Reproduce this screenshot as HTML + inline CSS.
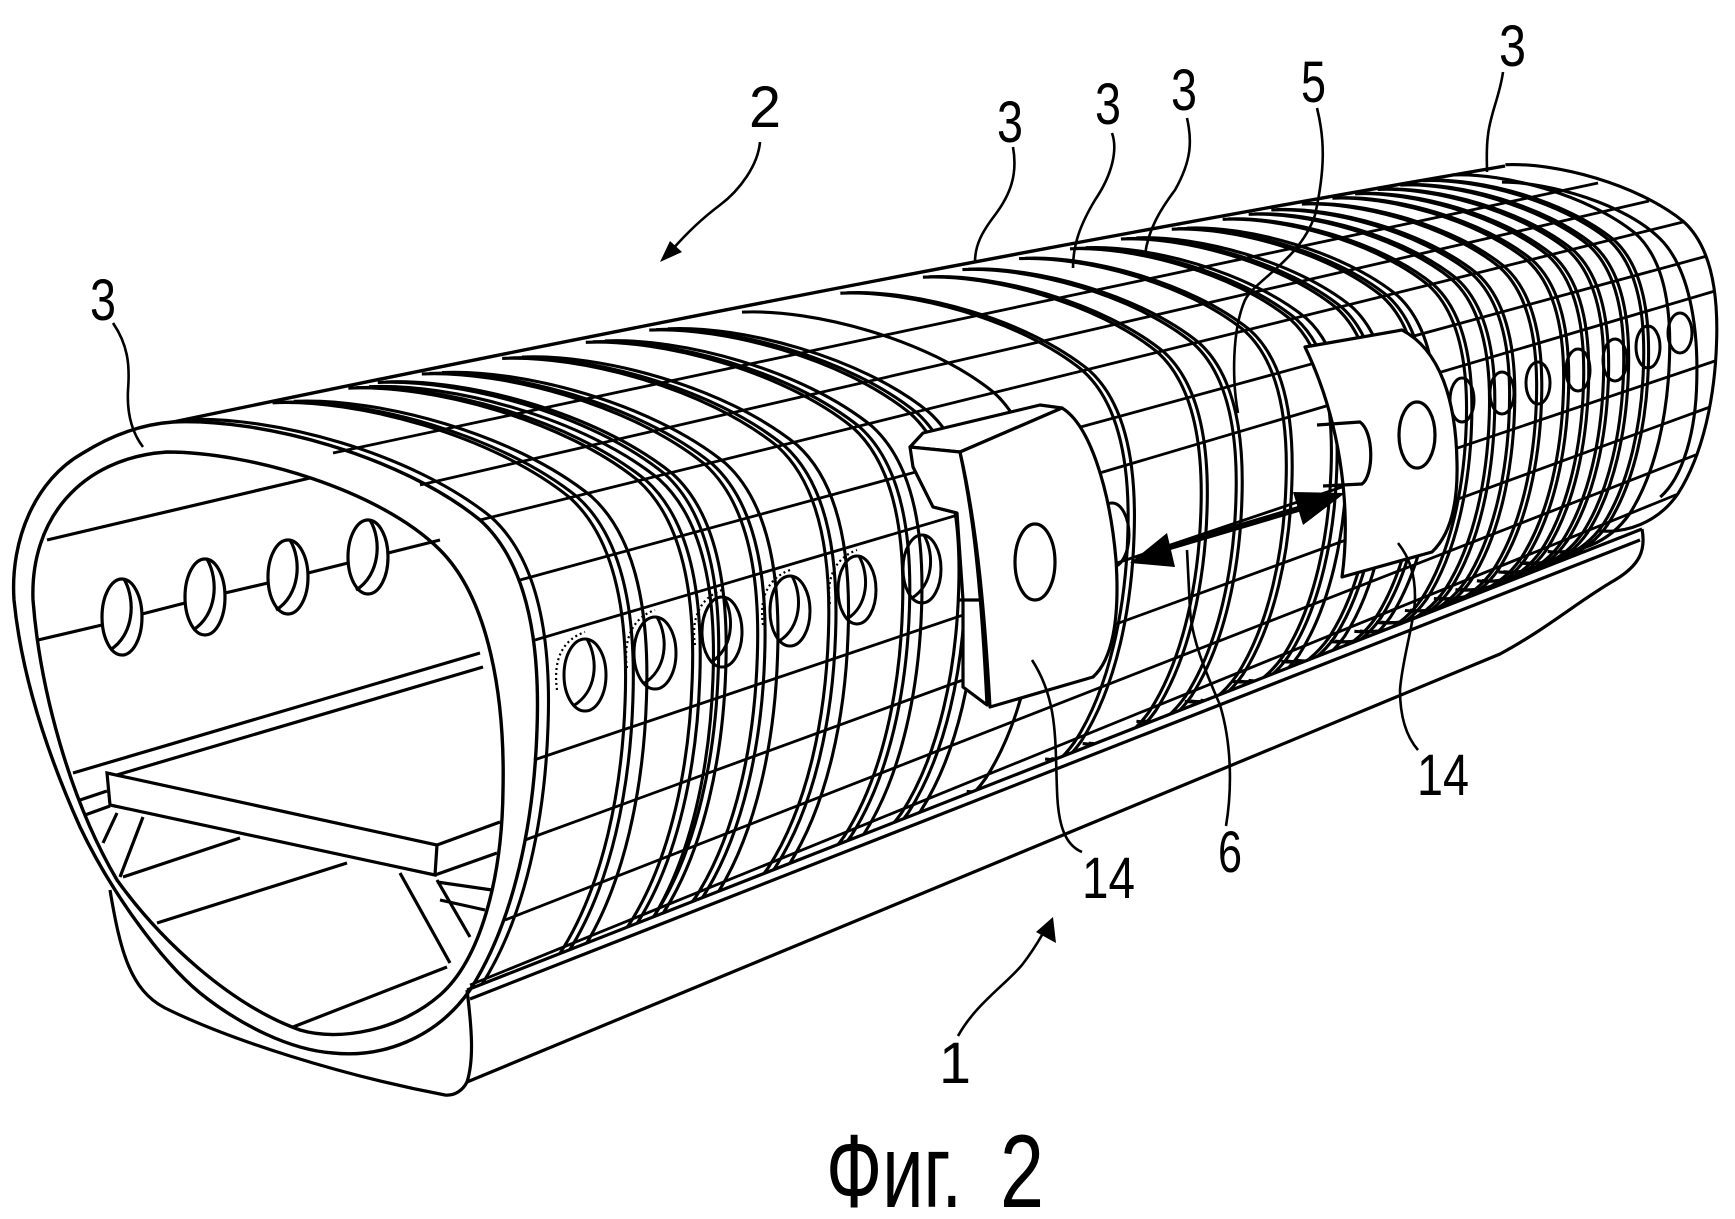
<!DOCTYPE html>
<html>
<head>
<meta charset="utf-8">
<style>
html,body{margin:0;padding:0;background:#fff;}
svg{display:block;}
text{font-family:"Liberation Sans", Arial, sans-serif;fill:#000;}
</style>
</head>
<body>
<svg xmlns="http://www.w3.org/2000/svg" xmlns:xlink="http://www.w3.org/1999/xlink" width="1735" height="1219" viewBox="0 0 1735 1219">
<defs>
<path id="fr" d="M173,422 C260,418 400,455 480,520 C530,565 540,650 537,730 C534,820 515,920 470,990 C435,1040 380,1058 333,1053" fill="none" stroke="#000" stroke-width="3.1" vector-effect="non-scaling-stroke"/>
<path id="fi" d="M167,452 C250,452 380,490 440,550 C490,600 505,700 503,790 C502,880 480,960 440,995" fill="none" stroke="#000" stroke-width="3.1" vector-effect="non-scaling-stroke"/>
<g id="f2"><use href="#fr" xlink:href="#fr"/><use href="#fr" xlink:href="#fr" transform="translate(8,-0.5)"/></g>
<g id="f3"><use href="#f2" xlink:href="#f2"/><use href="#fr" xlink:href="#fr" transform="translate(22,-1.5)"/></g>
<clipPath id="ck"><polygon points="0,0 1735,0 1735,492 0,1173"/></clipPath>
</defs>
<rect width="1735" height="1219" fill="#fff"/>

<g clip-path="url(#ck)">
<use href="#fr" xlink:href="#fr" transform="matrix(.99608,0,0,.99608,13.12,-.75)"/>
<use href="#f3" xlink:href="#f3" transform="matrix(.96863,0,0,.96863,104.96,-5.98)"/>
<use href="#f3" xlink:href="#f3" transform="matrix(.94473,0,0,.94473,184.9,-10.53)"/>
<use href="#f2" xlink:href="#f2" transform="matrix(.93549,0,0,.93549,215.9,-12.30)"/>
<use href="#f3" xlink:href="#f3" transform="matrix(.92154,0,0,.92154,262.4,-14.95)"/>
<use href="#f3" xlink:href="#f3" transform="matrix(.89626,0,0,.89626,347.1,-19.77)"/>
<use href="#f3" xlink:href="#f3" transform="matrix(.86988,0,0,.86988,435.3,-24.80)"/>
<use href="#f3" xlink:href="#f3" transform="matrix(.84989,0,0,.84989,502.2,-28.61)"/>
<use href="#fr" xlink:href="#fr" transform="matrix(.8207,0,0,.8207,600,-34.2)"/>
<use href="#f2" xlink:href="#f2" transform="matrix(.78966,0,0,.78966,703.7,-40.08)"/>
<use href="#f2" xlink:href="#f2" transform="matrix(.76362,0,0,.76362,790.8,-45.05)"/>
<use href="#f2" xlink:href="#f2" transform="matrix(.75115,0,0,.75115,832.5,-47.42)"/>
<use href="#f2" xlink:href="#f2" transform="matrix(.73330,0,0,.73330,892.2,-50.82)"/>
<use href="#f3" xlink:href="#f3" transform="matrix(.71726,0,0,.71726,945.9,-53.88)"/>
<use href="#f3" xlink:href="#f3" transform="matrix(.70123,0,0,.70123,999.6,-56.94)"/>
<use href="#f3" xlink:href="#f3" transform="matrix(.68517,0,0,.68517,1053.2,-60.00)"/>
<use href="#f2" xlink:href="#f2" transform="matrix(.66912,0,0,.66912,1106.9,-63.05)"/>
<use href="#f2" xlink:href="#f2" transform="matrix(.66093,0,0,.66093,1134.3,-64.62)"/>
<use href="#f2" xlink:href="#f2" transform="matrix(.65379,0,0,.65379,1158.2,-65.98)"/>
<use href="#f2" xlink:href="#f2" transform="matrix(.64418,0,0,.64418,1190.4,-67.81)"/>
<use href="#f2" xlink:href="#f2" transform="matrix(.63456,0,0,.63456,1222.6,-69.64)"/>
<use href="#f2" xlink:href="#f2" transform="matrix(.62742,0,0,.62742,1246.5,-71.00)"/>
<use href="#f2" xlink:href="#f2" transform="matrix(.62028,0,0,.62028,1270.3,-72.36)"/>
<use href="#f2" xlink:href="#f2" transform="matrix(.61314,0,0,.61314,1294.2,-73.72)"/>
<use href="#f2" xlink:href="#f2" transform="matrix(.60604,0,0,.60604,1318.0,-75.08)"/>
<use href="#fr" xlink:href="#fr" transform="matrix(.59676,0,0,.59676,1349.0,-76.85)"/>
<use href="#fr" xlink:href="#fr" transform="matrix(.58,0,0,.58,1405.08,-80.04)"/>
<use href="#fi" xlink:href="#fi" transform="matrix(.58,0,0,.58,1405.08,-80.04)"/>
<path stroke="#000" stroke-width="2.8" fill="none" d="M333,453 L1598,183 M420,485 L1649,201 M480,520 L1683,222 M520,580 L1707,256 M535,640 L1715,291 M534,760 L1715,361 M525,840 L1710,407 M505,920 L1698,454 M470,985 L1678,494"/>
</g>

<path d="M173,422 Q900,270 1505,166" fill="none" stroke="#000" stroke-width="3.4"/>

<g fill="none" stroke="#000" stroke-width="3.2">
<path d="M467,990 L1642,529 M470,999 L1640,540"/>
<path d="M1642,529 C1646,550 1640,565 1615,580 C1580,600 1545,630 1500,654 L467,1082"/>
<path d="M467,990 C472,1030 474,1060 467,1082"/>
<path d="M110,890 C120,950 130,990 165,1008 C230,1040 340,1075 445,1095 C455,1096 463,1090 467,1082"/>
</g>

<g fill="none" stroke="#000" stroke-width="3.4">
<path d="M173,422 C260,418 400,455 480,520 C530,565 540,650 537,730 C534,820 515,920 470,990 C435,1040 380,1058 333,1053 C290,1050 240,1025 200,993 C160,960 110,890 80,827 C50,760 22,680 14,600 C10,540 35,480 83,453 C115,433 145,424 173,422 Z"/>
<path d="M167,452 C250,452 380,490 440,550 C490,600 505,700 503,790 C502,880 480,960 440,995 C400,1030 340,1042 300,1030 C230,1005 160,940 117,880 C70,800 40,690 33,600 C30,520 80,458 167,452 Z"/>
</g>

<g fill="none" stroke="#000" stroke-width="3.2">
<path d="M47,540 L310,478 M38,640 L102,625 M142,614 L185,603 M225,593 L268,583 M308,573 L348,563 M388,553 L440,540"/>
<ellipse cx="122" cy="617" rx="20" ry="38"/>
<ellipse cx="205" cy="597" rx="20" ry="38"/>
<ellipse cx="288" cy="577" rx="20" ry="37"/>
<ellipse cx="368" cy="557" rx="20" ry="37"/>
<path d="M124,579 C136,600 134,635 110,650 M207,559 C219,580 217,615 193,630 M290,540 C302,560 300,595 276,610 M370,520 C382,540 380,575 356,590"/>
<path d="M73,773 L480,653 M110,777 L483,667"/>
<path d="M107,773 L437,845 L435,875 L110,805 Z" fill="#fff"/>
<path d="M437,845 L500,822 M435,875 L497,853 M80,800 L107,791 M85,815 L110,806 M117,813 L103,843 M143,817 L120,877 M123,877 L240,838 M157,923 L347,863 M293,1027 L447,967 M400,873 L450,963 M437,880 L470,937 M437,882 L492,890 M440,900 L485,910"/>
</g>

<g fill="none" stroke="#000" stroke-width="3">
<ellipse cx="585" cy="675" rx="21" ry="36"/>
<ellipse cx="655" cy="653" rx="21" ry="36"/>
<ellipse cx="722" cy="632" rx="20" ry="35"/>
<ellipse cx="790" cy="611" rx="20" ry="35"/>
<ellipse cx="857" cy="590" rx="19" ry="34"/>
<ellipse cx="922" cy="569" rx="19" ry="34"/>
<path d="M587,639 C599,660 597,692 573,706 M657,617 C669,638 667,670 643,684 M724,597 C735,617 733,649 711,662 M792,576 C803,596 801,628 779,641 M859,556 C870,576 868,606 847,619 M924,535 C935,555 933,585 912,598"/>
<ellipse cx="1112" cy="535" rx="17" ry="32"/>
<ellipse cx="1462" cy="400" rx="12" ry="22"/>
<ellipse cx="1502" cy="393" rx="12" ry="21"/>
<ellipse cx="1538" cy="383" rx="12" ry="21"/>
<ellipse cx="1578" cy="370" rx="12" ry="21"/>
<ellipse cx="1615" cy="360" rx="12" ry="21"/>
<ellipse cx="1648" cy="347" rx="12" ry="21"/>
<ellipse cx="1680" cy="333" rx="12" ry="20"/>
</g>
<path fill="none" stroke="#000" stroke-width="2.2" stroke-dasharray="2,3" d="M557,690 C553,660 562,640 585,632 M627,668 C623,640 632,618 655,610 M695,645 C691,618 700,598 722,590 M763,625 C759,598 768,578 790,570 M830,604 C826,578 835,558 857,550"/>

<g stroke="#000" stroke-width="3.2" fill="#fff" stroke-linejoin="round">
<path d="M910,447 L923,433 L1040,405 L1062,408 L960,452 Z"/>
<path d="M910,447 L960,452 C970,500 980,560 987,705 L963,687 L963,600 L957,513 L933,507 L913,467 Z"/>
<path d="M960,452 L1062,408 C1090,425 1110,490 1116,560 C1120,620 1112,660 1093,677 L990,707 C985,620 978,530 960,452 Z"/>
<ellipse cx="1035" cy="562" rx="20" ry="38" fill="none"/>
<path d="M933,507 L957,513 M957,600 L980,600" fill="none"/>
<path d="M1305,347 L1402,330 C1440,350 1456,400 1457,463 C1458,505 1450,535 1432,552 L1342,577 C1350,520 1345,430 1305,347 Z"/>
<path d="M1317,425 L1360,422 C1374,432 1374,475 1362,484 L1323,486" fill="none"/>
<ellipse cx="1417" cy="435" rx="18" ry="33" fill="none"/>
</g>

<line x1="1160" y1="550" x2="1305" y2="507" stroke="#000" stroke-width="6"/>
<polygon points="1130,563 1167,533 1175,567" fill="#000"/>
<polygon points="1345,493 1293,492 1303,525" fill="#000"/>

<path fill="none" stroke="#000" stroke-width="2.6" d="M113,323 C128,345 130,365 128,390 C127,410 130,430 143,447 M1013,147 C1018,175 1010,195 995,215 C982,232 975,245 975,262 M1112,133 C1118,150 1112,175 1095,200 C1080,225 1073,245 1073,268 M1187,118 C1192,140 1192,160 1175,190 C1160,210 1148,230 1145,255 M1317,108 C1325,140 1325,170 1315,215 C1300,260 1255,280 1245,300 C1232,330 1232,380 1238,413 M1503,72 C1500,95 1490,115 1488,135 C1486,150 1487,160 1487,172 M1082,852 C1065,845 1058,825 1057,790 C1055,740 1058,700 1032,660 M1226,826 C1232,790 1232,745 1220,705 C1205,670 1192,640 1190,610 L1187,550 M1418,750 C1405,735 1400,715 1400,690 C1402,660 1415,620 1415,597 C1415,575 1410,558 1398,543 M958,1036 C975,1005 1005,985 1022,965 C1032,952 1038,942 1042,935 M760,142 C758,165 740,190 720,205 C700,220 685,235 672,250"/>
<polygon points="1053,917 1036,932 1056,943" fill="#000"/>
<polygon points="660,262 670,241 682,252" fill="#000"/>

<g font-size="58">
<text x="749" y="127" textLength="32" lengthAdjust="spacingAndGlyphs">2</text>
<text x="90" y="320" textLength="26" lengthAdjust="spacingAndGlyphs">3</text>
<text x="997" y="142" textLength="26" lengthAdjust="spacingAndGlyphs">3</text>
<text x="1095" y="124" textLength="26" lengthAdjust="spacingAndGlyphs">3</text>
<text x="1171" y="110" textLength="26" lengthAdjust="spacingAndGlyphs">3</text>
<text x="1301" y="102" textLength="25" lengthAdjust="spacingAndGlyphs">5</text>
<text x="1499" y="66" textLength="27" lengthAdjust="spacingAndGlyphs">3</text>
<text x="1082" y="898" textLength="53" lengthAdjust="spacingAndGlyphs">14</text>
<text x="1218" y="872" textLength="24" lengthAdjust="spacingAndGlyphs">6</text>
<text x="1417" y="795" textLength="52" lengthAdjust="spacingAndGlyphs">14</text>
<text x="939" y="1083" textLength="32" lengthAdjust="spacingAndGlyphs">1</text>
</g>
<g font-size="104">
<text x="826" y="1207" textLength="136" lengthAdjust="spacingAndGlyphs">Фиг.</text>
<text x="1000" y="1207" textLength="44" lengthAdjust="spacingAndGlyphs">2</text>
</g>
</svg>
</body>
</html>
